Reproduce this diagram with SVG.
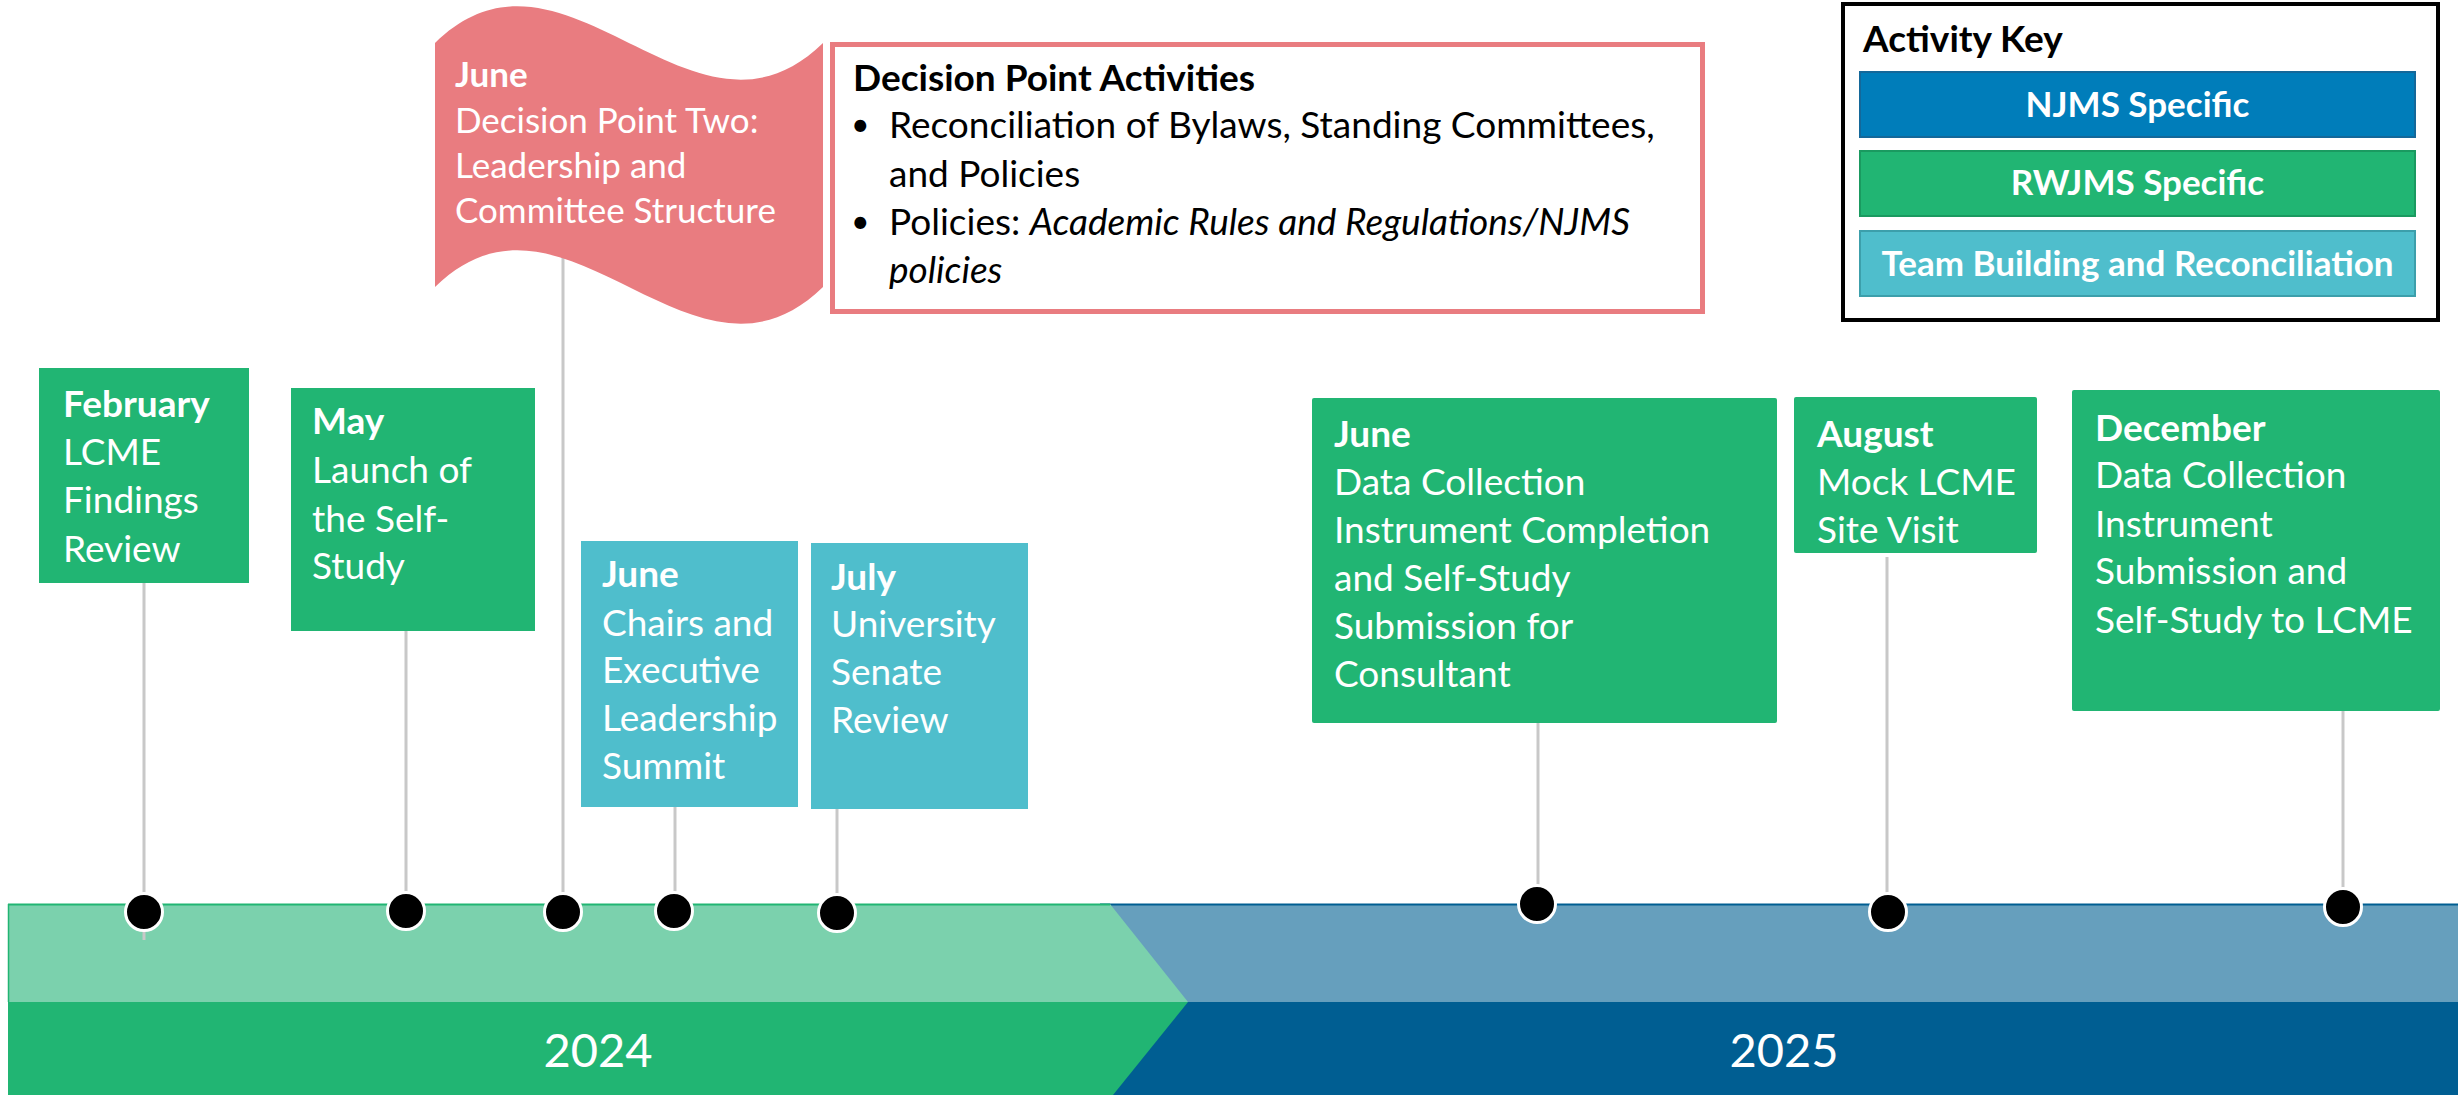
<svg xmlns="http://www.w3.org/2000/svg" width="2461" height="1095" viewBox="0 0 2461 1095">
<style>
text{font-family:Lato,"Open Sans","Liberation Sans",sans-serif;}
.w{fill:#FFFFFF;font-size:37px;}
.f{fill:#FFFFFF;font-size:35px;}
.b{font-weight:bold;}
.k{fill:#000000;font-size:37px;}
.bul{fill:#000000;font-size:32px;}
.green{fill:#21B573;}
.teal{fill:#4FBECC;}
.conn{stroke:#C8C8C8;stroke-width:3;fill:none;}
.dot{fill:#000000;stroke:#FFFFFF;stroke-width:3;}
.year{fill:#FFFFFF;font-size:47px;text-anchor:middle;}
.keytxt{fill:#FFFFFF;font-size:35px;font-weight:bold;text-anchor:middle;}
</style>

<g id="timeline-band">
  <rect x="1100" y="904" width="1358" height="98" fill="#669FBD"/>
  <rect x="1100" y="1002" width="1358" height="93" fill="#005E92"/>
  <line x1="1100" y1="904.5" x2="2458" y2="904.5" stroke="#005E92" stroke-width="2"/>
  <polygon points="8,904 1110,904 1188,1002 8,1002" fill="#7BD1AD"/>
  <polygon points="8,1002 1188,1002 1113,1095 8,1095" fill="#21B573"/>
  <line x1="8" y1="904.5" x2="1110" y2="904.5" stroke="#21B573" stroke-width="2"/>
  <line x1="8.5" y1="904" x2="8.5" y2="1002" stroke="#21B573" stroke-width="1.5"/>
  <text class="year" x="598" y="1067">2024</text>
  <text class="year" x="1784" y="1067">2025</text>
</g>

<g id="connectors">
  <line class="conn" x1="144" y1="583" x2="144" y2="940"/>
  <line class="conn" x1="406" y1="631" x2="406" y2="911"/>
  <line class="conn" x1="563" y1="255" x2="563" y2="912"/>
  <line class="conn" x1="675" y1="807" x2="675" y2="911"/>
  <line class="conn" x1="837" y1="809" x2="837" y2="913"/>
  <line class="conn" x1="1538" y1="723" x2="1538" y2="904"/>
  <line class="conn" x1="1887" y1="557" x2="1887" y2="912"/>
  <line class="conn" x1="2343" y1="711" x2="2343" y2="907"/>
</g>

<g id="dots">
  <circle class="dot" cx="144" cy="912" r="18.5"/>
  <circle class="dot" cx="406" cy="911" r="18.5"/>
  <circle class="dot" cx="563" cy="912" r="18.5"/>
  <circle class="dot" cx="674" cy="911" r="18.5"/>
  <circle class="dot" cx="837" cy="913" r="18.5"/>
  <circle class="dot" cx="1537" cy="904" r="18.5"/>
  <circle class="dot" cx="1888" cy="912" r="18.5"/>
  <circle class="dot" cx="2343" cy="907" r="18.5"/>
</g>

<g id="flag-june-decision">
  <path d="M435,43 C565,-84 693,170 823,43 L823,287 C693,414 565,160 435,287 Z" fill="#E97C80"/>
  <text class="f b" x="455" y="87">June</text>
  <text class="f" x="455" y="133">Decision Point Two:</text>
  <text class="f" x="455" y="178">Leadership and</text>
  <text class="f" x="455" y="223">Committee Structure</text>
</g>

<g id="decision-activities">
  <rect x="832.5" y="44.5" width="870" height="267" fill="#FFFFFF" stroke="#E97C80" stroke-width="5"/>
  <text class="k b" x="853" y="91">Decision Point Activities</text>
  <text class="bul" x="851" y="136">•</text>
  <text class="k" x="889" y="138">Reconciliation of Bylaws, Standing Committees,</text>
  <text class="k" x="889" y="187">and Policies</text>
  <text class="bul" x="851" y="233">•</text>
  <text class="k" x="889" y="235">Policies: <tspan font-style="italic">Academic Rules and Regulations/NJMS</tspan></text>
  <text class="k" x="889" y="283" font-style="italic">policies</text>
</g>

<g id="activity-key">
  <rect x="1843" y="4" width="595" height="316" fill="#FFFFFF" stroke="#000000" stroke-width="4"/>
  <text class="k b" x="1863" y="52" font-size="38.5px">Activity Key</text>
  <rect x="1860" y="72" width="555" height="65" fill="#007DBA" stroke="#14689A" stroke-width="2"/>
  <text class="keytxt" x="2137.5" y="117">NJMS Specific</text>
  <rect x="1860" y="151" width="555" height="65" fill="#21B573" stroke="#1A9A60" stroke-width="2"/>
  <text class="keytxt" x="2137.5" y="195">RWJMS Specific</text>
  <rect x="1860" y="231" width="555" height="65" fill="#4FBECC" stroke="#3C9FAB" stroke-width="2"/>
  <text class="keytxt" x="2137.5" y="276">Team Building and Reconciliation</text>
</g>

<g id="feb-lcme-findings">
  <rect class="green" x="39" y="368" width="210" height="215"/>
  <text class="w b" x="63" y="417">February</text>
  <text class="w" x="63" y="465">LCME</text>
  <text class="w" x="63" y="513">Findings</text>
  <text class="w" x="63" y="562">Review</text>
</g>

<g id="may-launch">
  <rect class="green" x="291" y="388" width="244" height="243"/>
  <text class="w b" x="312" y="434">May</text>
  <text class="w" x="312" y="483">Launch of</text>
  <text class="w" x="312" y="532">the Self-</text>
  <text class="w" x="312" y="579">Study</text>
</g>

<g id="june-chairs-summit">
  <rect class="teal" x="581" y="541" width="217" height="266"/>
  <text class="w b" x="602" y="587">June</text>
  <text class="w" x="602" y="636">Chairs and</text>
  <text class="w" x="602" y="683">Executive</text>
  <text class="w" x="602" y="731">Leadership</text>
  <text class="w" x="602" y="779">Summit</text>
</g>

<g id="july-senate">
  <rect class="teal" x="811" y="543" width="217" height="266"/>
  <text class="w b" x="831" y="590">July</text>
  <text class="w" x="831" y="637">University</text>
  <text class="w" x="831" y="685">Senate</text>
  <text class="w" x="831" y="733">Review</text>
</g>

<g id="june-data-collection">
  <rect class="green" x="1312" y="398" width="465" height="325" rx="2"/>
  <text class="w b" x="1334" y="447">June</text>
  <text class="w" x="1334" y="495">Data Collection</text>
  <text class="w" x="1334" y="543">Instrument Completion</text>
  <text class="w" x="1334" y="591">and Self-Study</text>
  <text class="w" x="1334" y="639">Submission for</text>
  <text class="w" x="1334" y="687">Consultant</text>
</g>

<g id="august-mock">
  <rect class="green" x="1794" y="397" width="243" height="156" rx="2"/>
  <text class="w b" x="1817" y="447">August</text>
  <text class="w" x="1817" y="495">Mock LCME</text>
  <text class="w" x="1817" y="543">Site Visit</text>
</g>

<g id="december-submission">
  <rect class="green" x="2072" y="390" width="368" height="321" rx="2"/>
  <text class="w b" x="2095" y="441">December</text>
  <text class="w" x="2095" y="488">Data Collection</text>
  <text class="w" x="2095" y="537">Instrument</text>
  <text class="w" x="2095" y="584">Submission and</text>
  <text class="w" x="2095" y="633">Self-Study to LCME</text>
</g>
</svg>
